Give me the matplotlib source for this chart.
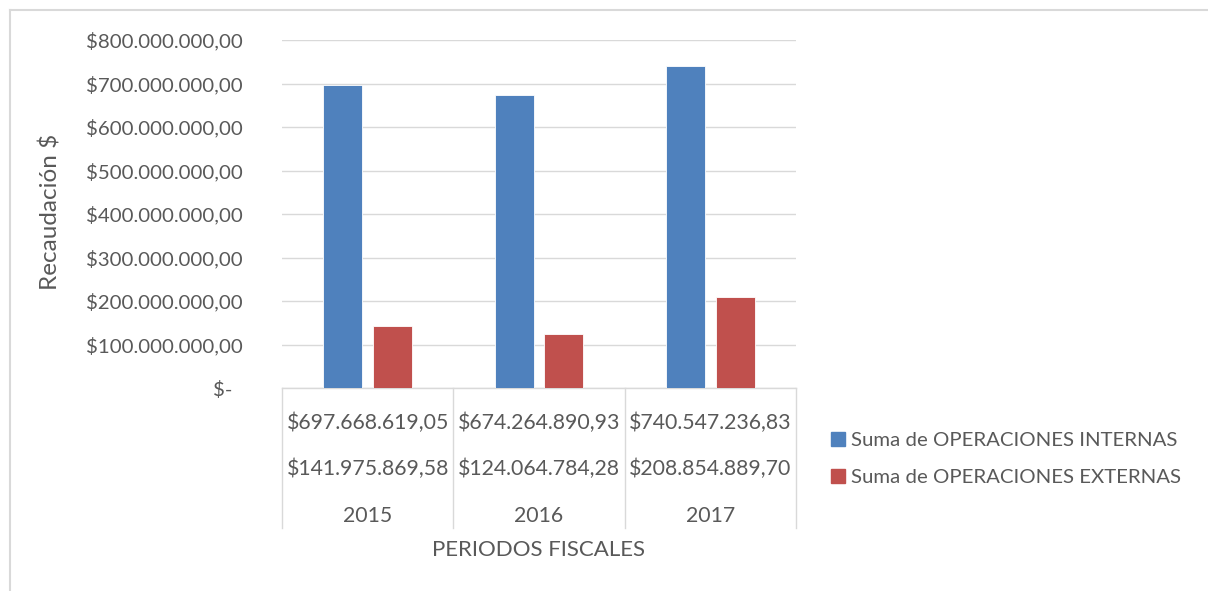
import numpy as np
import matplotlib.pyplot as plt
from matplotlib.lines import Line2D
from matplotlib.patches import Patch
import matplotlib.transforms as mtransforms

plt.rcParams['font.family'] = ['Lato', 'DejaVu Sans']

years = ['2015', '2016', '2017']
internas = [697668619.05, 674264890.93, 740547236.83]
externas = [141975869.58, 124064784.28, 208854889.70]
internas_txt = ['$697.668.619,05', '$674.264.890,93', '$740.547.236,83']
externas_txt = ['$141.975.869,58', '$124.064.784,28', '$208.854.889,70']
yticks = [0, 100e6, 200e6, 300e6, 400e6, 500e6, 600e6, 700e6, 800e6]

blue = '#4F81BD'
red = '#C0504D'
grey = '#D9D9D9'
txt = '#595959'

W, H = 1208, 591
fig = plt.figure(figsize=(W / 100, H / 100), dpi=100)

# plot area in pixel coords
x0, x1, ytop, ybot = 282, 796, 40, 388
ax = fig.add_axes([x0 / W, 1 - ybot / H, (x1 - x0) / W, (ybot - ytop) / H])

x = np.arange(len(years))
bw = 0.228
off = 0.145
ax.bar(x - off, internas, bw, color=blue, edgecolor='white', linewidth=0.6, zorder=3)
ax.bar(x + off, externas, bw, color=red, edgecolor='white', linewidth=0.6, zorder=3)

ax.set_xlim(-0.5, len(years) - 0.5)
ax.set_ylim(0, 800e6)
ax.set_yticks(yticks)


def fmt(v):
    if v == 0:
        return '$-  '
    s = '{:,.2f}'.format(v)
    s = s.replace(',', 'X').replace('.', ',').replace('X', '.')
    return '$' + s


ax.set_yticklabels([fmt(v) for v in yticks])
ax.tick_params(axis='y', length=0, pad=28, labelsize=14.7, labelcolor=txt)
ax.tick_params(axis='x', length=0, labelbottom=False)
ax.grid(axis='y', color=grey, linewidth=1, zorder=0)
for s in ['top', 'right', 'left']:
    ax.spines[s].set_visible(False)
ax.spines['bottom'].set_color(grey)
ax.spines['bottom'].set_linewidth(1)

# data table below the axis
trans = mtransforms.blended_transform_factory(ax.transData, ax.transAxes)
ph = ybot - ytop
rows = [(423, internas_txt), (469, externas_txt), (516, years)]
for ypix, vals in rows:
    yy = (ybot - ypix) / ph
    for i, v in enumerate(vals):
        ax.text(x[i], yy, v, transform=trans, ha='center', va='center',
                fontsize=15.3, color=txt, clip_on=False)

ylow = (ybot - 528) / ph
for b in np.arange(-0.5, len(years), 1.0):
    ax.add_line(Line2D([b, b], [0, ylow], transform=trans, color=grey,
                       linewidth=1, clip_on=False))

ax.set_ylabel('Recaudación $', fontsize=17.5, color=txt)
ax.yaxis.set_label_coords((62 - x0) / (x1 - x0), (ybot - 212) / ph)
fig.text((x0 + x1) / 2 / W, 1 - 550 / H, 'PERIODOS FISCALES', ha='center',
         va='center', fontsize=16, color=txt)

handles = [Patch(color=blue), Patch(color=red)]
labels = ['Suma de OPERACIONES INTERNAS', 'Suma de OPERACIONES EXTERNAS']
leg = fig.legend(handles, labels, loc='upper left',
                 bbox_to_anchor=(831 / W, 1 - 432 / H), frameon=False,
                 fontsize=14.7, handlelength=0.7, handleheight=0.7,
                 handletextpad=0.3, labelspacing=0.95, borderpad=0,
                 borderaxespad=0)
for t in leg.get_texts():
    t.set_color(txt)

# outer chart border
fig.add_artist(Line2D([10 / W, 1.01], [1 - 10 / H, 1 - 10 / H], color=grey, linewidth=1.5))
fig.add_artist(Line2D([10 / W, 10 / W], [-0.01, 1 - 10 / H], color=grey, linewidth=1.5))

fig.savefig('out.png', dpi=100, facecolor='white')
